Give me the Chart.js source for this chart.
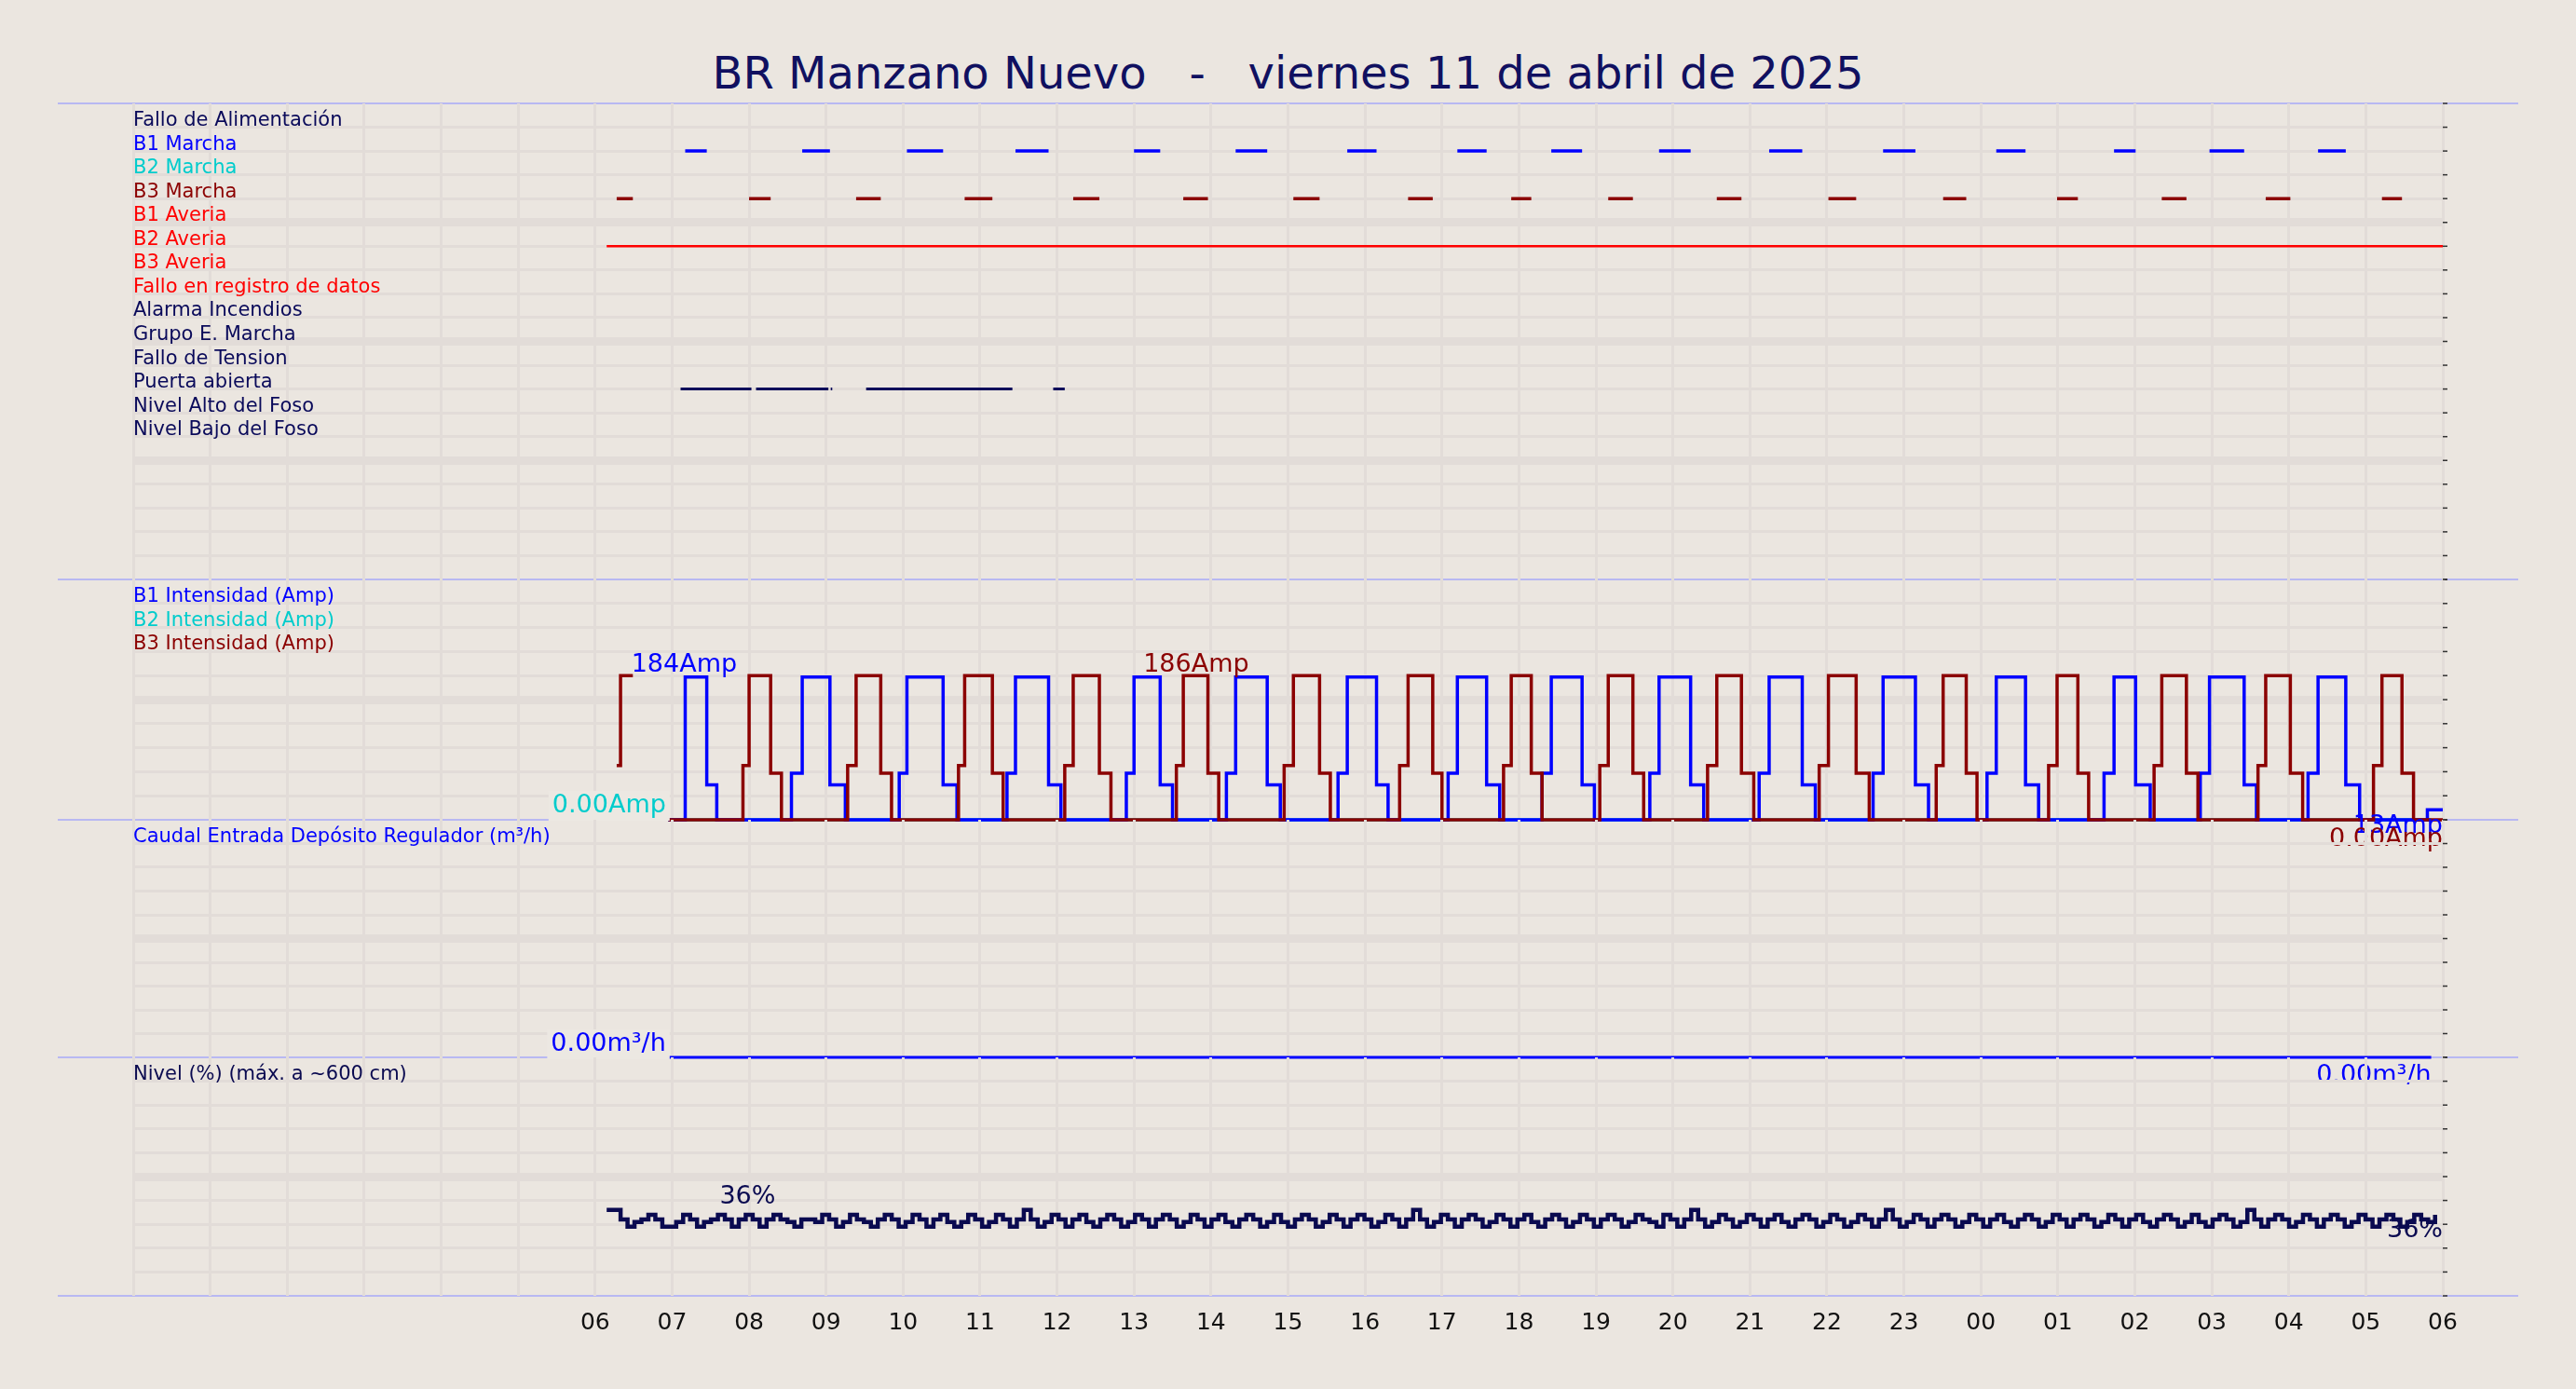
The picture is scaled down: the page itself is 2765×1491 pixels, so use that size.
<!DOCTYPE html>
<html>
<head>
<meta charset="utf-8">
<script src="https://cdn.jsdelivr.net/npm/chart.js@4"></script>
<style>
  body { margin:0; background:#ebe6e0; width:2765px; height:1491px; overflow:hidden; font-family:"DejaVu Sans"; }
  #title { position:absolute; top:50px; left:0; width:2765px; text-align:center; font-size:48px; color:#101060; white-space:pre; }
  .hl { position:absolute; height:2px; background:#b8b8f2; left:62px; width:2641px; }
  .vl { position:absolute; width:2px; background:#b8b8f2; left:637px; top:111px; height:1280px; }
  canvas { position:absolute; }
</style>
</head>
<body>
<div id="title">BR Manzano Nuevo   -   viernes 11 de abril de 2025</div>
<div class="hl" style="top:110px"></div>
<div class="hl" style="top:621px"></div>
<div class="hl" style="top:879px"></div>
<div class="hl" style="top:1134px"></div>
<div class="hl" style="top:1390px"></div>
<div class="vl"></div>
<script>
// hours since midnight of the 11th (06 -> 6, next day 06 -> 30)
const signalNames = ['Fallo de Alimentación','B1 Marcha','B2 Marcha','B3 Marcha','B1 Averia','B2 Averia','B3 Averia',
  'Fallo en registro de datos','Alarma Incendios','Grupo E. Marcha','Fallo de Tension','Puerta abierta','Nivel Alto del Foso','Nivel Bajo del Foso'];
const signalColors = ['#0a0a5a','#0000ff','#00cccc','#8b0000','#ff0000','#ff0000','#ff0000','#ff0000','#0a0a5a','#0a0a5a','#0a0a5a','#0a0a5a','#0a0a5a','#0a0a5a'];

const b1Marcha = [[7.17,7.45],[8.69,9.05],[10.05,10.52],[11.46,11.89],[13.0,13.34],[14.32,14.73],[15.77,16.15],[17.2,17.58],
  [18.42,18.82],[19.82,20.23],[21.25,21.68],[22.73,23.15],[24.2,24.58],[25.73,26.01],[26.97,27.42],[28.38,28.74]];
const b3Marcha = [[6.28,6.49],[8.0,8.28],[9.39,9.71],[10.8,11.16],[12.21,12.55],[13.64,13.96],[15.07,15.41],[16.56,16.88],
  [17.9,18.16],[19.16,19.48],[20.57,20.89],[22.02,22.38],[23.51,23.81],[24.99,25.26],[26.35,26.67],[27.7,28.02],[29.21,29.47]];
const b2Averia = [[6.15,30]];
const puertaAbierta = [[7.11,8.03],[8.09,9.03],[9.06,9.08],[9.52,11.42],[11.95,12.1]];

// current pulses: [rise, peak start, peak end, back to zero]
const b1Pulses = [[7.17,7.17,7.45,7.58],[8.55,8.69,9.05,9.25],[9.95,10.05,10.52,10.7],[11.35,11.46,11.89,12.05],[12.9,13.0,13.34,13.5],
  [14.2,14.32,14.73,14.9],[15.65,15.77,16.15,16.3],[17.08,17.2,17.58,17.75],[18.3,18.42,18.82,18.98],[19.7,19.82,20.23,20.4],
  [21.12,21.25,21.68,21.85],[22.6,22.73,23.15,23.32],[24.08,24.2,24.58,24.75],[25.6,25.73,26.01,26.2],[26.85,26.97,27.42,27.58],[28.25,28.38,28.74,28.92]];
const b3Pulses = [[6.28,6.33,6.45,6.49],[7.92,8.0,8.28,8.42],[9.28,9.39,9.71,9.85],[10.72,10.8,11.16,11.3],[12.1,12.21,12.55,12.7],
  [13.55,13.64,13.96,14.1],[14.95,15.07,15.41,15.55],[16.45,16.56,16.88,17.0],[17.8,17.9,18.16,18.3],[19.05,19.16,19.48,19.62],
  [20.45,20.57,20.89,21.05],[21.9,22.02,22.38,22.55],[23.42,23.51,23.81,23.95],[24.88,24.99,25.26,25.4],[26.25,26.35,26.67,26.82],
  [27.6,27.7,28.02,28.18],[29.1,29.21,29.47,29.62]];
const b1Levels = [60, 184, 45];
const b3Levels = [70, 186, 60];
const dataStart = 6.95, dataEnd = 29.85;
const b1EndValue = 13;

const nivelStart = 6.15, nivelEnd = 29.9;
const nivel = [
  36,36,32,29,31,32,34,32,29,29,31,34, 32,29,31,32,34,32,29,32,34,32,29,32,
  34,32,31,29,32,32,31,34,32,29,31,34, 32,31,29,32,34,32,29,31,34,32,29,32,
  34,31,29,31,34,32,29,31,34,32,29,32, 36,32,29,31,34,32,29,32,34,31,29,32,
  34,32,29,31,34,32,29,32,34,32,29,31, 34,32,29,32,34,31,29,32,34,32,29,31,
  34,31,29,32,34,32,29,31,34,32,29,32, 34,32,29,31,34,32,29,32,36,32,29,31,
  34,32,29,32,34,32,29,31,34,32,29,32, 34,31,29,32,34,32,29,31,34,32,29,32,
  34,32,29,31,34,32,31,29,34,32,29,32, 36,32,29,31,34,32,29,31,34,32,29,32,
  34,31,29,32,34,32,29,31,34,32,29,31, 34,32,29,32,36,32,29,31,34,32,29,32,
  34,32,29,31,34,32,29,32,34,31,29,32, 34,32,29,31,34,32,29,32,34,32,29,31,
  34,32,29,32,34,31,29,32,34,32,29,31, 34,31,29,32,34,32,29,31,36,32,29,32,
  34,32,29,31,34,32,29,32,34,32,29,31, 34,32,29,32,34,32,29,31,34,32,31,34
];
const xLabels = ['06','07','08','09','10','11','12','13','14','15','16','17','18','19','20','21','22','23','00','01','02','03','04','05','06'];

const PAD = 40;
const W = 2479, LEFT = 143;
const panels = [{top:111,h:511},{top:622,h:258},{top:880,h:255},{top:1135,h:256}];
const font = 'DejaVu Sans';

function segData(segs, y) {
  const out = [];
  segs.forEach(s => { out.push({x:s[0],y:y},{x:s[1],y:y},{x:s[1],y:null}); });
  return out;
}
function pulseData(pulses, lv, start) {
  const out = [];
  if (start !== null) out.push({x:start,y:0});
  pulses.forEach(p => {
    out.push({x:p[0],y:lv[0]},{x:p[1],y:lv[1]},{x:p[2],y:lv[2]},{x:p[3],y:0});
  });
  return out;
}

const annot = {
  id:'annot',
  afterDatasetsDraw(chart, args, opts) {
    const c = chart.ctx, a = chart.chartArea, xs = chart.scales.x, ys = chart.scales.y;
    c.save();
    c.strokeStyle = '#333'; c.lineWidth = 1.5;
    ys.ticks.forEach(t => { const py = ys.getPixelForValue(t.value); c.beginPath(); c.moveTo(a.right, py); c.lineTo(a.right + 5, py); c.stroke(); });
    c.textBaseline = 'middle';
    (opts.rows || []).forEach((r, i) => {
      c.font = '21px "' + font + '"'; c.fillStyle = r.color; c.textAlign = 'left';
      c.fillText(r.text, a.left, a.top + 18.5 + 25.56 * i);
    });
    (opts.values || []).forEach(v => {
      c.font = '27px "' + font + '"'; c.textAlign = v.align;
      const px = xs.getPixelForValue(v.x), py = ys.getPixelForValue(v.y);
      if (v.bg) {
        const w = c.measureText(v.text).width;
        const x0 = v.align === 'right' ? px - w - 4 : px - 4;
        c.fillStyle = '#ece8e2'; c.fillRect(x0, py - 16, w + 8, 32);
      }
      c.fillStyle = v.color; c.fillText(v.text, px, py);
    });
    c.restore();
  }
};

function makeChart(idx, datasets, yMin, yMax, step, reverse, rows, values, showX) {
  const p = panels[idx];
  const cv = document.createElement('canvas');
  const extraB = showX ? 60 : 0;
  cv.width = W + 2 * PAD; cv.height = p.h + 2 * PAD + extraB;
  cv.style.left = (LEFT - PAD) + 'px'; cv.style.top = (p.top - PAD) + 'px';
  cv.style.width = cv.width + 'px'; cv.style.height = cv.height + 'px';
  document.body.appendChild(cv);
  return new Chart(cv, {
    type:'line',
    data:{ datasets: datasets },
    plugins:[annot],
    options:{
      responsive:false, animation:false, devicePixelRatio:1,
      layout:{ padding:{ left:PAD, right:PAD, top:PAD, bottom:PAD } },
      plugins:{ legend:{display:false}, tooltip:{enabled:false}, annot:{ rows: rows, values: values } },
      elements:{ point:{ radius:0 } },
      scales:{
        x:{ type:'linear', min:0, max:30,
            border:{display:false},
            grid:{ color:'#e2dcd8', lineWidth:3, drawTicks:false },
            ticks:{ stepSize:1, display:showX, padding:14, color:'#111', font:{ family:font, size:25 },
                    callback:(v) => v >= 6 ? xLabels[v - 6] : '' },
            afterFit:(s) => { s.height = showX ? extraB : 0; } },
        y:{ min:yMin, max:yMax, reverse:reverse,
            border:{display:false},
            grid:{ drawTicks:false,
                   color:(c) => (c.tick && (c.tick.value === yMin || c.tick.value === yMax)) ? 'rgba(0,0,0,0)' : '#e2dcd8',
                   lineWidth:(c) => (c.index === 5 || c.index === 10 || c.index === 15) ? 9 : 3 },
            ticks:{ stepSize:step, display:false },
            afterFit:(s) => { s.width = 0; } }
      }
    }
  });
}

const line = (data, color, w, extra) => Object.assign({ data:data, borderColor:color, borderWidth:w, spanGaps:false, clip:false, fill:false }, extra || {});

// panel 1 - digital signals
makeChart(0, [
  line(segData(b1Marcha, 2), '#0000ff', 3.5),
  line(segData(b3Marcha, 4), '#8b0000', 3.5),
  line(segData(b2Averia, 6), '#ff0000', 2.5),
  line(segData(puertaAbierta, 12), '#0a0a5a', 3)
], 0, 20, 1, true, signalNames.map((t, i) => ({ text:t, color:signalColors[i] })), [], false);

// panel 2 - currents
const b1Data = pulseData(b1Pulses, b1Levels, dataStart);
b1Data.push({x:29.8,y:b1EndValue},{x:30,y:b1EndValue});
const first = b3Pulses[0];
const b3Data = [{x:first[0],y:b3Levels[0]},{x:first[1],y:b3Levels[1]},{x:first[3],y:b3Levels[1]},{x:first[3] + 0.001,y:null}]
  .concat(pulseData(b3Pulses.slice(1), b3Levels, dataStart));
b3Data.push({x:30,y:0});
makeChart(1, [
  line(b3Data, '#8b0000', 3.5, { stepped:'before' }),
  line(b1Data, '#0000ff', 3.5, { stepped:'before' }),
  line([{x:dataStart,y:0},{x:dataEnd,y:0}], '#00cccc', 3.5)
], 0, 310, 31, false,
  [{text:'B1 Intensidad (Amp)',color:'#0000ff'},{text:'B2 Intensidad (Amp)',color:'#00cccc'},{text:'B3 Intensidad (Amp)',color:'#8b0000'}],
  [{text:'184Amp',color:'#0000ff',x:6.47,y:200,align:'left'},
   {text:'186Amp',color:'#8b0000',x:13.12,y:200,align:'left'},
   {text:'0.00Amp',color:'#00cccc',x:6.92,y:18,align:'right',bg:true},
   {text:'13Amp',color:'#0000ff',x:30,y:-8,align:'right'},
   {text:'0.00Amp',color:'#8b0000',x:30,y:-25,align:'right'}], false);

// panel 3 - flow
makeChart(2, [
  line([{x:dataStart,y:0},{x:dataEnd,y:0}], '#0000ff', 3)
], 0, 10, 1, false,
  [{text:'Caudal Entrada Depósito Regulador (m³/h)',color:'#0000ff'}],
  [{text:'0.00m³/h',color:'#0000ff',x:6.92,y:0.55,align:'right',bg:true},
   {text:'0.00m³/h',color:'#0000ff',x:29.85,y:-0.8,align:'right'}], false);

// panel 4 - level
const nivelStep = (nivelEnd - nivelStart) / (nivel.length - 1);
makeChart(3, [
  line(nivel.map((v, i) => ({ x:nivelStart + i * nivelStep, y:v })), '#0a0a50', 4.5, { stepped:'before' })
], 0, 100, 10, false,
  [{text:'Nivel (%) (máx. a ~600 cm)',color:'#0a0a50'}],
  [{text:'36%',color:'#0a0a50',x:7.98,y:41.5,align:'center'},
   {text:'36%',color:'#0a0a50',x:30,y:27.5,align:'right'}], true);
</script>
</body>
</html>
